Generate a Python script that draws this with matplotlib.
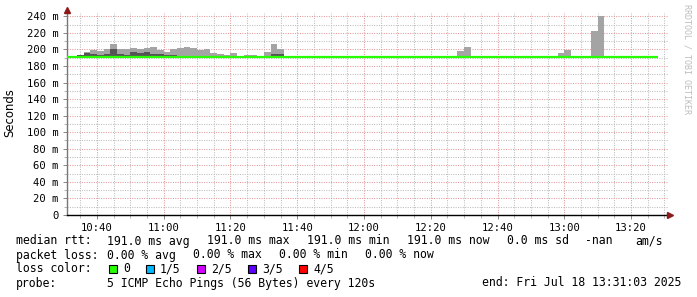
import matplotlib
matplotlib.use("Agg")
import matplotlib.pyplot as plt
import matplotlib.patches as mpatches
from matplotlib.ticker import FixedLocator, FuncFormatter
import numpy as np

# --- data ----------------------------------------------------------------
range_start = "10:31:03"
range_end = "13:31:03"

# 2 minute steps that carry smoke above the median (left edge of each step)
smoke_times = ["10:34", "10:36", "10:38", "10:40", "10:42", "10:44", "10:46",
               "10:48", "10:50", "10:52", "10:54", "10:56", "10:58", "11:00",
               "11:02", "11:04", "11:06", "11:08", "11:10", "11:12", "11:14",
               "11:16", "11:18", "11:20", "11:24", "11:26", "11:30", "11:32",
               "11:34", "12:28", "12:30", "12:58", "13:00", "13:08", "13:10"]
smoke_max = [193.5, 197, 199, 198, 201, 206, 200.5,
             200, 202, 201, 202, 203, 199, 196.5,
             200, 201.5, 203, 202, 199.5, 200.5, 196,
             194.5, 193.5, 196, 193.5, 193.5, 197, 206,
             200, 198.5, 203, 196, 199.5, 222.5, 240]
smoke_inner = [193.5, 196, 194.5, 193, 194.5, 200, 194.5,
               193, 196.5, 196, 196.5, 194, 194, 193,
               193, None, None, None, None, None, None,
               None, None, None, None, None, None, 194,
               194, None, None, None, None, None, None]

median_times = ["10:31:03", "13:28:00"]
median_rtt = [191.0, 191.0]

y_major = [0, 20, 40, 60, 80, 100, 120, 140, 160, 180, 200, 220, 240]
x_labels = ["10:40", "11:00", "11:20", "11:40", "12:00", "12:20", "12:40",
            "13:00", "13:20"]

loss_labels = ["0", "1/5", "2/5", "3/5", "4/5"]
loss_colors = ["#26ff00", "#00b8ff", "#d400ff", "#5e00ff", "#ff0000"]


def to_min(s):
    p = [int(v) for v in s.split(":")]
    return p[0] * 60 + p[1] + (p[2] / 60.0 if len(p) > 2 else 0)


W, H = 697, 297
fig = plt.figure(figsize=(W / 100, H / 100), dpi=100)
fig.patch.set_facecolor("white")

ax_l, ax_r, ax_t, ax_b = 67, 668, 13, 215
ax = fig.add_axes([ax_l / W, 1 - ax_b / H, (ax_r - ax_l) / W, (ax_b - ax_t) / H])

x0, x1 = to_min(range_start), to_min(range_end)
ax.set_xlim(x0, x1)
ax.set_ylim(0, 244)

# smoke
st = np.array([to_min(t) for t in smoke_times])
smax = np.array(smoke_max, dtype=float)
sin = np.array([np.nan if v is None else v for v in smoke_inner], dtype=float)
ax.bar(st, smax - 191.0, bottom=191.0, width=2, align="edge",
       color="#a4a4a4", linewidth=0, zorder=2)
ok = ~np.isnan(sin)
ax.bar(st[ok], sin[ok] - 191.0, bottom=191.0, width=2, align="edge",
       color="#555555", linewidth=0, zorder=3)

# median line
ax.plot([to_min(t) for t in median_times], median_rtt, color="#26ff00",
        lw=1.6, solid_capstyle="butt", zorder=4)

# grid
ax.xaxis.set_major_locator(FixedLocator([to_min(t) for t in x_labels]))
ax.xaxis.set_minor_locator(FixedLocator(np.arange(to_min("10:35"), x1, 5)))
ax.xaxis.set_major_formatter(FuncFormatter(
    lambda v, p: "%d:%02d" % (int(v // 60), int(round(v % 60)))))
ax.yaxis.set_major_locator(FixedLocator(y_major))
ax.yaxis.set_minor_locator(FixedLocator(np.arange(10, 244, 20)))
ax.yaxis.set_major_formatter(FuncFormatter(
    lambda v, p: "%d m" % v if v else "0"))

ax.grid(which="minor", color="#bdbdbd", linestyle=(0, (1, 1.3)), lw=0.75, zorder=1)
ax.grid(which="major", color="#e39a9a", linestyle=(0, (1, 1.3)), lw=0.75, zorder=1)

mono = "DejaVu Sans Mono"
ax.tick_params(axis="both", which="major", labelsize=7.6, length=3,
               width=0.7, color="#888888", pad=3)
ax.tick_params(axis="both", which="minor", length=2, width=0.6, color="#aaaaaa")
for lab in ax.get_xticklabels() + ax.get_yticklabels():
    lab.set_fontfamily(mono)

for s in ("top", "right"):
    ax.spines[s].set_visible(False)
ax.spines["left"].set_color("#777777")
ax.spines["left"].set_linewidth(1.0)
ax.spines["bottom"].set_color("black")
ax.spines["bottom"].set_linewidth(1.0)

# axis arrows
ax.plot([0], [1 + 3 / 202], marker="^", ms=4, color="#8b1a1a",
        transform=ax.transAxes, clip_on=False, zorder=6)
ax.plot([1 + 2 / 601], [0], marker=">", ms=4, color="#8b1a1a",
        transform=ax.transAxes, clip_on=False, zorder=6)

# y label and watermark
fig.text(10 / W, 1 - 113 / H, "Seconds", rotation=90, ha="center",
         va="center", fontsize=8.4, color="black")
fig.text(687 / W, 1 - 4 / H, "RRDTOOL / TOBI OETIKER", rotation=270,
         ha="center", va="top", fontsize=6, family=mono, color="#bdbdbd")

# legend area
fs = 8.3


def put(x, y, s, ha="left"):
    fig.text(x / W, 1 - y / H, s, ha=ha, va="center", fontsize=fs,
             family=mono, color="black")


rows = [241, 255, 269, 283]
put(16, rows[0], "median rtt:")
for x, s in zip([107, 207, 307, 407, 507, 585, 635],
                ["191.0 ms avg", "191.0 ms max", "191.0 ms min",
                 "191.0 ms now", "0.0 ms sd", "-nan", "am/s"]):
    put(x, rows[0], s)

put(16, rows[1], "packet loss:")
for x, s in zip([107, 193, 279, 365],
                ["0.00 % avg", "0.00 % max", "0.00 % min", "0.00 % now"]):
    put(x, rows[1], s)

put(16, rows[2], "loss color:")
for x, lab, col in zip([109, 146, 197, 248, 299], loss_labels, loss_colors):
    fig.add_artist(mpatches.Rectangle((x / W, 1 - (rows[2] + 4) / H), 8 / W, 8 / H,
                                      transform=fig.transFigure, facecolor=col,
                                      edgecolor="black", linewidth=0.8))
    put(x + 14, rows[2], lab)

put(16, rows[3], "probe:")
put(107, rows[3], "5 ICMP Echo Pings (56 Bytes) every 120s")
put(681, rows[3], "end: Fri Jul 18 13:31:03 2025", ha="right")

fig.savefig("out.png", dpi=100, facecolor="white")
